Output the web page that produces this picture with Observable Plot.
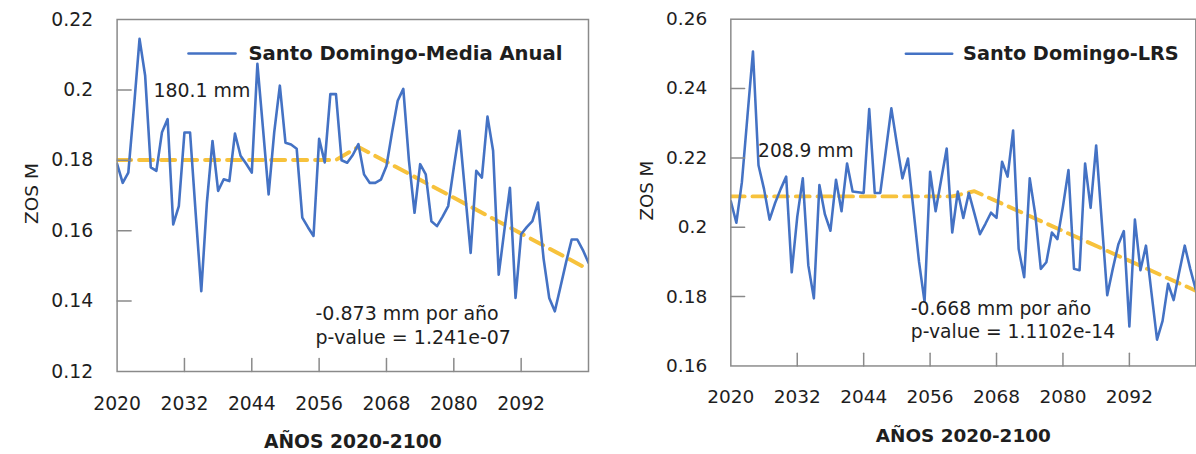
<!DOCTYPE html>
<html><head><meta charset="utf-8">
<script src="https://cdn.jsdelivr.net/npm/d3@7"></script>
<script src="https://cdn.jsdelivr.net/npm/@observablehq/plot@0.6"></script>
<style>
html,body{margin:0;padding:0;background:#fff;overflow:hidden;width:1196px;height:454px}
#wrap{position:relative;width:1196px;height:454px;overflow:hidden}
#left{position:absolute;left:0;top:0}
#right{position:absolute;left:600px;top:0}
</style></head><body><div id="wrap"><div id="left"></div><div id="right"></div></div>
<script>
const startYear = 2020;
const xDomain = [2020, 2104];
const xTicks = [2020, 2032, 2044, 2056, 2068, 2080, 2092];
const xTitle = "AÑOS 2020-2100";
const yTitle = "ZOS M";

// Santo Domingo - Media Anual (m), yearly from 2020
const leftValues = [
  0.179, 0.1736, 0.1765, 0.195, 0.2145, 0.204, 0.178, 0.177, 0.188, 0.1917,
  0.1618, 0.167, 0.1879, 0.1879, 0.165, 0.1428, 0.168, 0.1855, 0.1713, 0.1746,
  0.1741, 0.1876, 0.1813, 0.179, 0.1765, 0.2074, 0.189, 0.1703, 0.188, 0.2012,
  0.185, 0.1845, 0.1833, 0.1637, 0.161, 0.1585, 0.1861, 0.1794, 0.1988, 0.1988,
  0.18, 0.1793, 0.1815, 0.1846, 0.176, 0.1736, 0.1736, 0.1745, 0.1784, 0.188,
  0.1969, 0.2003, 0.18, 0.1651, 0.1789, 0.176, 0.1627, 0.1613, 0.164, 0.167,
  0.178, 0.1884, 0.171, 0.1537, 0.177, 0.1751, 0.1924, 0.1827, 0.1475, 0.16,
  0.1722, 0.1409, 0.159, 0.161, 0.1627, 0.168, 0.152, 0.1409, 0.1371, 0.144,
  0.151, 0.1575, 0.1575, 0.1545, 0.1509
];
// Santo Domingo - LRS (m), yearly from 2020
const rightValues = [
  0.2075, 0.2013, 0.213, 0.232, 0.2507, 0.2179, 0.211, 0.2022, 0.207, 0.211,
  0.2146, 0.187, 0.203, 0.2141, 0.189, 0.1795, 0.2122, 0.2037, 0.199, 0.2137,
  0.2046, 0.2184, 0.2103, 0.2101, 0.2099, 0.2341, 0.2099, 0.2099, 0.222, 0.2343,
  0.224, 0.2141, 0.2198, 0.205, 0.19, 0.1785, 0.216, 0.2046, 0.2137, 0.2227,
  0.1985, 0.2103, 0.2027, 0.2099, 0.204, 0.198, 0.201, 0.2042, 0.2027, 0.2189,
  0.2146, 0.2279, 0.1937, 0.1856, 0.2141, 0.2037, 0.188, 0.1899, 0.1985, 0.1966,
  0.206, 0.2165, 0.188, 0.1876, 0.2184, 0.2056, 0.2236, 0.202, 0.1804, 0.188,
  0.195, 0.1989, 0.1714, 0.2022, 0.1876, 0.1947, 0.181, 0.1676, 0.173, 0.1837,
  0.179, 0.187, 0.1947, 0.188, 0.182
];
const leftTrendYears = [2020, 2059, 2063, 2104];
const leftTrendValues = [0.1801, 0.1801, 0.1838, 0.149];
const rightTrendYears = [2020, 2060, 2064, 2104];
const rightTrendValues = [0.2089, 0.2089, 0.2104, 0.1817];

const leftYTicks = [0.12, 0.14, 0.16, 0.18, 0.2, 0.22];
const rightYTicks = [0.16, 0.18, 0.2, 0.22, 0.24, 0.26];

const leftLegend = "Santo Domingo-Media Anual";
const rightLegend = "Santo Domingo-LRS";
const leftLevel = "180.1 mm";
const rightLevel = "208.9 mm";
const leftSlope = "-0.873 mm por año";
const rightSlope = "-0.668 mm por año";
const leftP = "p-value = 1.241e-07";
const rightP = "p-value = 1.1102e-14";

const BLUE = "#4472c4", YELLOW = "#f7c23c", FRAME = "#8a8a8a", INK = "#1e1e1e";
const FONT = "'DejaVu Sans', sans-serif";
const tickShape = {draw(ctx, l) { ctx.moveTo(0, 0); ctx.lineTo(0, -l); }};

function chart(o) {
  const series = o.values.map((v, i) => ({year: startYear + i, v}));
  const trend = o.trendYears.map((y, i) => ({year: y, v: o.trendValues[i]}));
  const yMin = o.yTicks[0];
  const tl = {frameAnchor: "top-left", textAnchor: "start", lineAnchor: "middle", fill: INK};
  return Plot.plot({
    width: o.width, height: 454,
    marginTop: 19, marginBottom: 83, marginLeft: o.marginLeft, marginRight: o.marginRight,
    style: {fontFamily: FONT, background: "#fff"},
    x: {domain: xDomain, axis: null},
    y: {domain: [o.yTicks[0], o.yTicks[o.yTicks.length - 1]], axis: null},
    marks: [
      Plot.line(trend, {x: "year", y: "v", stroke: YELLOW, strokeWidth: 4, strokeDasharray: "14,8", clip: true}),
      Plot.line(series, {x: "year", y: "v", stroke: BLUE, strokeWidth: 2.6, clip: true}),
      Plot.vector(o.yTicks.slice(1, -1), {x: () => xDomain[0], y: d => d, length: 14, rotate: 90, anchor: "start", shape: tickShape, stroke: FRAME, strokeWidth: 1.5}),
      Plot.vector(xTicks.slice(1), {x: d => d, y: () => yMin, length: 13, rotate: 0, anchor: "start", shape: tickShape, stroke: FRAME, strokeWidth: 1.5}),
      Plot.frame({stroke: FRAME, strokeWidth: 1.5}),
      Plot.text(xTicks, {x: d => d, frameAnchor: "bottom", lineAnchor: "middle", dy: 32, text: d => String(d), fontSize: 18.8, fill: INK}),
      Plot.text(o.yTicks, {y: d => d, frameAnchor: "left", textAnchor: "end", dx: -24, text: d => String(d), fontSize: 18.8, fill: INK}),
      Plot.text([xTitle], {frameAnchor: "bottom", lineAnchor: "middle", dy: 71, fontSize: 18.7, fontWeight: "bold", fill: INK}),
      Plot.text([yTitle], {frameAnchor: "left", textAnchor: "middle", dx: o.yTitleDx, dy: -2, rotate: -90, fontSize: 18.5, fill: INK}),
      Plot.vector([0], {frameAnchor: "top-left", dx: o.legLineDx, dy: o.legDy, length: 47, rotate: 90, anchor: "start", shape: tickShape, stroke: BLUE, strokeWidth: 2.6}),
      Plot.text([o.legend], {...tl, dx: o.legTextDx, dy: o.legDy, fontSize: 19.6, fontWeight: "bold"}),
      Plot.text([o.level], {...tl, dx: o.levelDx, dy: o.levelDy, fontSize: 18.9}),
      Plot.text([o.slope], {...tl, dx: o.statDx, dy: 294, fontSize: 19}),
      Plot.text([o.p], {...tl, dx: o.statDx, dy: 318, fontSize: 19})
    ]
  });
}

document.getElementById("left").append(chart({
  values: leftValues, trendYears: leftTrendYears, trendValues: leftTrendValues, yTicks: leftYTicks,
  width: 600, marginLeft: 116.6, marginRight: 12, yTitleDx: -84.6,
  legend: leftLegend, legLineDx: 71.4, legTextDx: 131.4, legDy: 34,
  level: leftLevel, levelDx: 36.4, levelDy: 71,
  slope: leftSlope, p: leftP, statDx: 198.4
}));
document.getElementById("right").append(chart({
  values: rightValues, trendYears: rightTrendYears, trendValues: rightTrendValues, yTicks: rightYTicks,
  width: 605, marginLeft: 132.3, marginRight: 0.7, yTitleDx: -85.3,
  legend: rightLegend, legLineDx: 177.7, legTextDx: 235.7, legDy: 35,
  level: rightLevel, levelDx: 27.7, levelDy: 134,
  slope: rightSlope, p: rightP, statDx: 182.7
}));
</script></body></html>
